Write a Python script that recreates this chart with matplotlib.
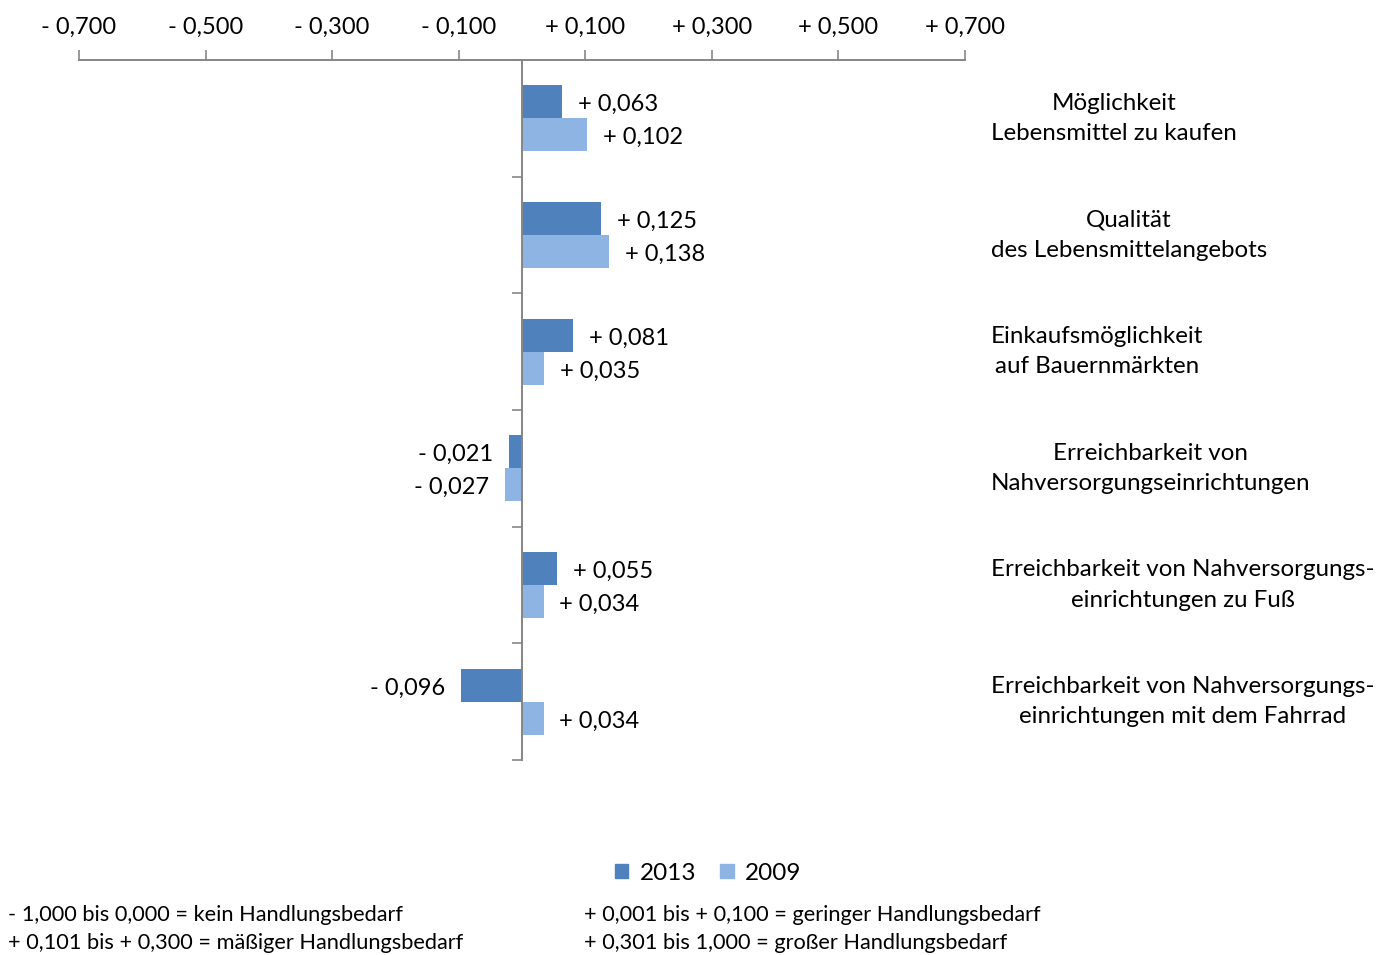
import numpy as np
import matplotlib.pyplot as plt
from matplotlib.patches import Patch

plt.rcParams['font.family'] = ['Lato', 'DejaVu Sans']

categories = [
    "Möglichkeit\nLebensmittel zu kaufen",
    "Qualität\ndes Lebensmittelangebots",
    "Einkaufsmöglichkeit\nauf Bauernmärkten",
    "Erreichbarkeit von\nNahversorgungseinrichtungen",
    "Erreichbarkeit von Nahversorgungs-\neinrichtungen zu Fuß",
    "Erreichbarkeit von Nahversorgungs-\neinrichtungen mit dem Fahrrad",
]
values_2013 = [0.063, 0.125, 0.081, -0.021, 0.055, -0.096]
values_2009 = [0.102, 0.138, 0.035, -0.027, 0.034, 0.034]
x_ticks = [-0.7, -0.5, -0.3, -0.1, 0.1, 0.3, 0.5, 0.7]

c2013 = '#4F81BD'
c2009 = '#8EB4E3'
axis_col = '#868686'


def fmt(v):
    sign = '+' if v > 0 else '-'
    return sign + ' ' + f"{abs(v):.3f}".replace('.', ',')


fig = plt.figure(figsize=(13.81, 9.55), dpi=100)
ax = fig.add_axes([79 / 1381, 1 - 760 / 955, 886 / 1381, 700 / 955])

y = np.arange(len(categories))
h = 0.282
b1 = ax.barh(y - h / 2, values_2013, height=h, color=c2013, label='2013')
b2 = ax.barh(y + h / 2, values_2009, height=h, color=c2009, label='2009')

for bars, vals in ((b1, values_2013), (b2, values_2009)):
    for bar, v in zip(bars, vals):
        yc = bar.get_y() + bar.get_height() / 2
        off = 11.5 if v > 0 else -11.5
        ax.annotate(fmt(v), (v, yc), xytext=(off, -2), textcoords='offset points',
                    ha='left' if v > 0 else 'right', va='center', fontsize=17)

ax.set_xlim(-0.7, 0.7)
ax.set_ylim(len(categories) - 0.5, -0.5)

ax.xaxis.tick_top()
ax.set_xticks(x_ticks)
ax.set_xticklabels([fmt(t) for t in x_ticks], fontsize=17)
ax.tick_params(axis='x', direction='out', length=7, color=axis_col, width=1.2, pad=9)
ax.set_yticks(np.arange(len(categories) + 1) - 0.5)
ax.set_yticklabels([])
ax.tick_params(axis='y', direction='out', length=7, color=axis_col, width=1.2)

for s in ('bottom', 'right'):
    ax.spines[s].set_visible(False)
ax.spines['left'].set_position(('data', 0))
for s in ('top', 'left'):
    ax.spines[s].set_color(axis_col)
    ax.spines[s].set_linewidth(1.4)

for yi, name in zip(y, categories):
    fig.text(991 / 1381, ax.transData.transform((0, yi))[1] / fig.bbox.height, name,
             ha='left', va='center', multialignment='center', fontsize=17.4,
             linespacing=1.55)

fig.legend(handles=[Patch(color=c2013, label='2013'), Patch(color=c2009, label='2009')],
           loc='center', bbox_to_anchor=(708 / 1381, 1 - 873 / 955), ncol=2,
           frameon=False, fontsize=17.5, handlelength=0.55, handleheight=0.55,
           handletextpad=0.45, columnspacing=1.0)

notes = [
    (8, 915, "- 1,000 bis 0,000 = kein Handlungsbedarf"),
    (584, 915, "+ 0,001 bis + 0,100 = geringer Handlungsbedarf"),
    (8, 943, "+ 0,101 bis + 0,300 = mäßiger Handlungsbedarf"),
    (584, 943, "+ 0,301 bis 1,000 = großer Handlungsbedarf"),
]
for nx, ny, txt in notes:
    fig.text(nx / 1381, 1 - ny / 955, txt, ha='left', va='center', fontsize=15.7)

fig.savefig('out.png', dpi=100)
